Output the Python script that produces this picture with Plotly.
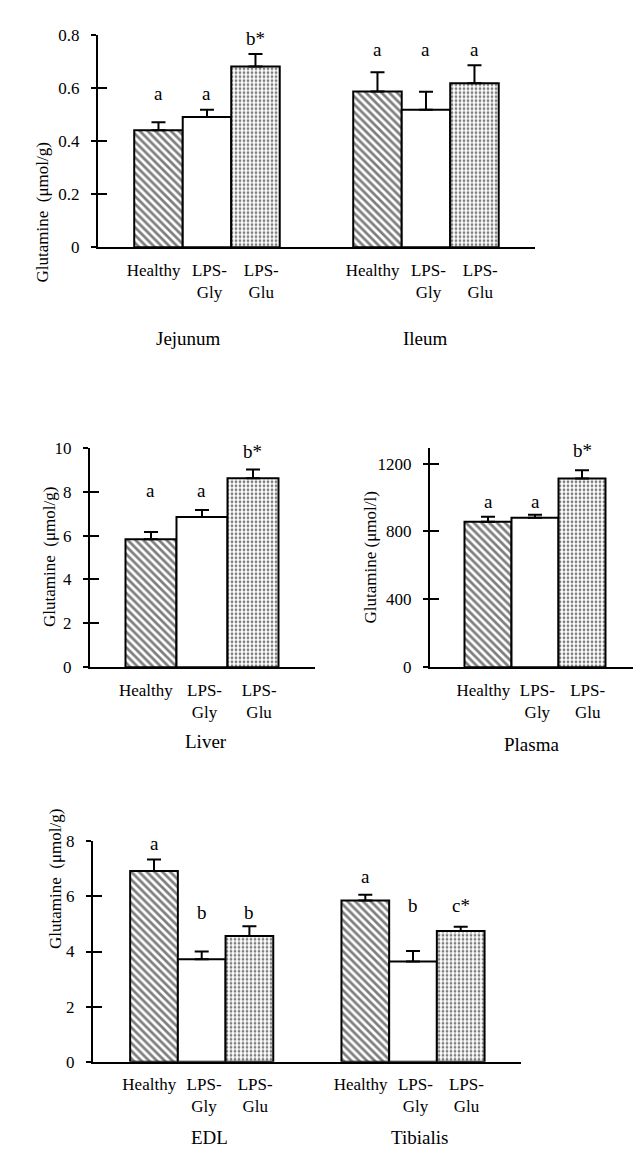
import plotly.graph_objects as go

# ---------------- data ----------------
conditions = ["Healthy", "LPS-<br>Gly", "LPS-<br>Glu"]

jejunum = [0.44, 0.49, 0.68]
jejunum_err = [0.03, 0.027, 0.047]
ileum = [0.586, 0.517, 0.617]
ileum_err = [0.073, 0.068, 0.068]

liver = [5.83, 6.85, 8.61]
liver_err = [0.34, 0.32, 0.40]

plasma = [858, 881, 1113]
plasma_err = [29, 18, 48]

edl = [6.92, 3.72, 4.56]
edl_err = [0.42, 0.28, 0.36]
tibialis = [5.85, 3.64, 4.74]
tibialis_err = [0.21, 0.38, 0.16]

jejunum_letters = ["a", "a", "b*"]
ileum_letters = ["a", "a", "a"]
liver_letters = ["a", "a", "b*"]
plasma_letters = ["a", "a", "b*"]
edl_letters = ["a", "b", "b"]
tibialis_letters = ["a", "b", "c*"]

jejunum_letter_y = [0.58, 0.58, 0.785]
ileum_letter_y = [0.744, 0.744, 0.744]
liver_letter_y = [8.04, 8.04, 9.83]
plasma_letter_y = [974, 974, 1275]
edl_letter_y = [7.91, 5.4, 5.4]
tibialis_letter_y = [6.74, 5.67, 5.67]

ticks_gut = [0, 0.2, 0.4, 0.6, 0.8]
ticks_liver = [0, 2, 4, 6, 8, 10]
ticks_plasma = [0, 400, 800, 1200]
ticks_muscle = [0, 2, 4, 6, 8]

# ---------------- styling ----------------
FONT = "Liberation Serif, Times New Roman, serif"
W, H = 641, 1165
patterns = ["\\", "", "."]
label_shift = [-0.1, 0.05, 0.12]   # small horizontal nudge of category labels (bar widths)

fig = go.Figure()

panels = [
    dict(ax="", groups=[("Jejunum", jejunum, jejunum_err, jejunum_letters, jejunum_letter_y, 0.0, -18),
                        ("Ileum", ileum, ileum_err, ileum_letters, ileum_letter_y, 4.515, 0)],
         yrange=[0, 0.8], tickvals=ticks_gut, ytitle="Glutamine\u00a0\u00a0(\u03bcmol/g)",
         xrange=[-1.247, 7.763], xpx=(90, 527), ypx=(234, 18), titlex=23, grouplabel_y=314),
    dict(ax="2", groups=[("Liver", liver, liver_err, liver_letters, liver_letter_y, 0.0, 4)],
         yrange=[0, 10], tickvals=ticks_liver, ytitle="Glutamine\u00a0\u00a0(\u03bcmol/g)",
         xrange=[-1.196, 3.216], xpx=(82, 307), ypx=(661, 438), titlex=30, grouplabel_y=737),
    dict(ax="3", groups=[("Plasma", plasma, plasma_err, plasma_letters, plasma_letter_y, 0.0, -4)],
         yrange=[0, 1293], tickvals=ticks_plasma, ytitle="Glutamine (\u03bcmol/l)",
         xrange=[-1.234, 3.298], xpx=(422, 635), ypx=(661, 438), titlex=363, grouplabel_y=740),
    dict(ax="4", groups=[("EDL", edl, edl_err, edl_letters, edl_letter_y, 0.0, 8),
                         ("Tibialis", tibialis, tibialis_err, tibialis_letters, tibialis_letter_y, 4.43, 6)],
         yrange=[0, 8], tickvals=ticks_muscle, ytitle="Glutamine\u00a0\u00a0(\u03bcmol/g)",
         xrange=[-1.279, 7.694], xpx=(85, 513), ypx=(1062, 838), titlex=36, grouplabel_y=1152),
]

annotations = []
layout_axes = {}
overlay_idx = 5
for p in panels:
    xa = "x" + p["ax"]
    ya = "y" + p["ax"]
    tickpos, ticktext = [], []
    for (name, vals, errs, letters, letter_y, off, shift) in p["groups"]:
        xs = [off + i for i in range(len(vals))]
        tickpos += [x + s for x, s in zip(xs, label_shift)]
        ticktext += conditions
        fig.add_trace(go.Bar(
            x=xs, y=vals, width=1.0, xaxis=xa, yaxis=ya,
            marker=dict(color="white",
                        line=dict(color="black", width=2),
                        pattern=dict(shape=patterns, fgcolor="black", bgcolor="white",
                                     size=[5.5, 5, 4], solidity=[0.5, 0.3, 0.38], fillmode="overlay")),
            error_y=dict(type="data", array=errs, arrayminus=[0] * len(errs), symmetric=False,
                         color="black", thickness=2, width=7),
            showlegend=False, hoverinfo="skip",
        ))
        for xv, t, yv in zip(xs, letters, letter_y):
            annotations.append(dict(x=xv, y=yv, xref=xa, yref=ya, text=t, showarrow=False,
                                    font=dict(family=FONT, size=19, color="black")))
        annotations.append(dict(x=off + 1, y=1 - p["grouplabel_y"] / H, xref=xa, yref="paper",
                                text=name, showarrow=False, xshift=shift,
                                font=dict(family=FONT, size=19, color="black")))
    ydom = [1 - p["ypx"][0] / H, 1 - p["ypx"][1] / H]
    xdom = [p["xpx"][0] / W, p["xpx"][1] / W]
    layout_axes["xaxis" + p["ax"]] = dict(
        domain=xdom, range=p["xrange"], anchor=ya, showline=True, linecolor="black", linewidth=2,
        showgrid=False, zeroline=False, ticks="", tickvals=tickpos, ticktext=ticktext,
        tickfont=dict(family=FONT, size=17, color="black"), ticklabelstandoff=6, fixedrange=True)
    layout_axes["yaxis" + p["ax"]] = dict(
        domain=ydom, range=p["yrange"], anchor=xa, showline=True, linecolor="black", linewidth=2,
        showgrid=False, zeroline=False, ticks="outside", ticklen=5, tickwidth=2, tickcolor="black",
        tickvals=p["tickvals"], tickfont=dict(family=FONT, size=17, color="black"),
        ticklabelstandoff=8, fixedrange=True)
    oy = "y%d" % overlay_idx
    layout_axes["yaxis%d" % overlay_idx] = dict(
        overlaying=ya, anchor=xa, side="left", range=p["yrange"], showline=False, showgrid=False,
        zeroline=False, ticks="inside", ticklen=9, tickwidth=2, tickcolor="black",
        tickvals=p["tickvals"], showticklabels=False, fixedrange=True)
    fig.add_trace(go.Scatter(x=[None], y=[None], xaxis=xa, yaxis=oy, showlegend=False,
                             hoverinfo="skip", mode="markers"))
    overlay_idx += 1
    annotations.append(dict(x=p["titlex"] / W, y=(ydom[0] + ydom[1]) / 2, xref="paper", yref="paper",
                            text=p["ytitle"], textangle=-90, showarrow=False,
                            font=dict(family=FONT, size=17, color="black")))

fig.update_layout(
    width=W, height=H, margin=dict(l=0, r=0, t=0, b=0),
    paper_bgcolor="white", plot_bgcolor="white", showlegend=False,
    font=dict(family=FONT, color="black"),
    annotations=annotations, **layout_axes,
)

fig.write_html("out.html")
